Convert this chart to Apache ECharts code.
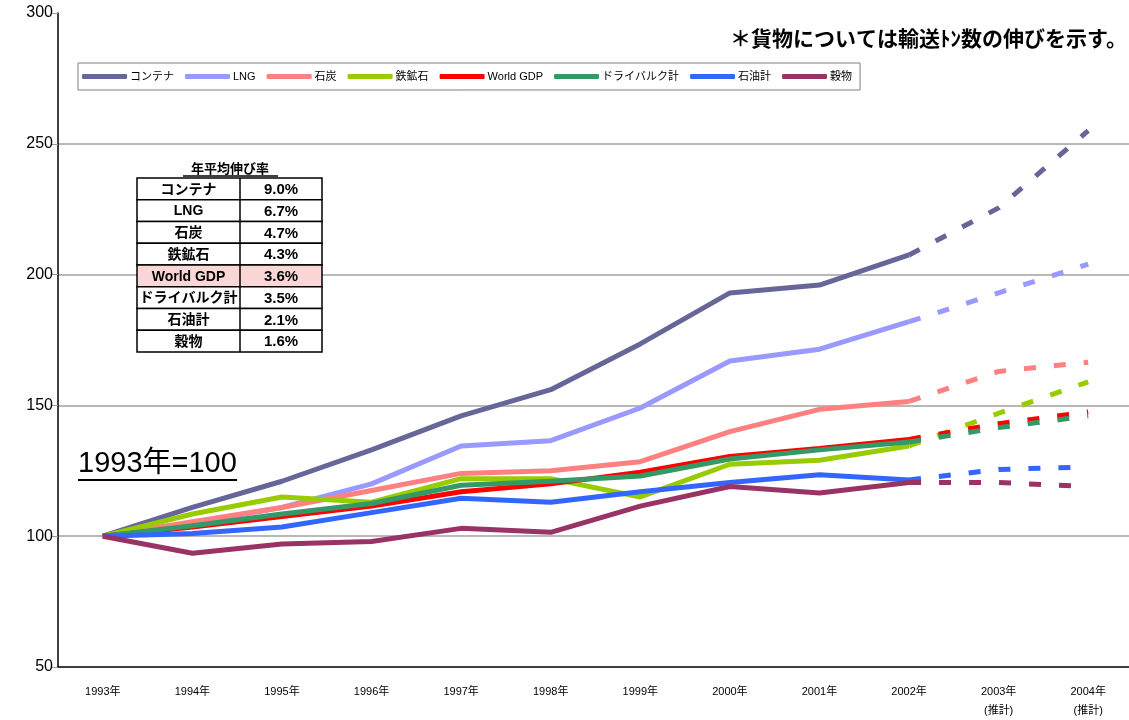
<!DOCTYPE html>
<html>
<head>
<meta charset="utf-8">
<script src="https://cdn.jsdelivr.net/npm/echarts@6/dist/echarts.min.js"></script>
<style>
  html, body { margin: 0; padding: 0; background: #fff; }
  #chart { width: 1129px; height: 720px; }
</style>
</head>
<body>
<div id="chart"></div>
<script>
// 年次（2003, 2004 は推計）
const years = ['1993年', '1994年', '1995年', '1996年', '1997年', '1998年', '1999年', '2000年', '2001年', '2002年', '2003年\n(推計)', '2004年\n(推計)'];
const seriesNames = ['コンテナ', 'LNG', '石炭', '鉄鉱石', 'World GDP', 'ドライバルク計', '石油計', '穀物'];
const seriesColors = ['#666699', '#9999FF', '#FF8080', '#99CC00', '#FF0000', '#339966', '#3366FF', '#993366'];

// 実績 1993-2002
const containerActual = [100, 111, 121, 133, 146, 156, 173.5, 193, 196, 207.5];
const lngActual = [100, 105, 111, 120, 134.5, 136.5, 149, 167, 171.5, 182];
const coalActual = [100, 105.5, 111, 117.5, 124, 125, 128.5, 140, 148.5, 151.5];
const ironActual = [100, 108.5, 115, 113, 122, 122, 115, 127.5, 129, 134.5];
const gdpActual = [100, 103.5, 107.5, 111.5, 117, 120, 124.5, 130.5, 133.5, 137];
const dryActual = [100, 104, 108.5, 112.5, 119.5, 121, 123, 129.5, 133, 136];
const oilActual = [100, 101, 103.5, 109, 114.5, 113, 117, 120.5, 123.5, 121.5];
const grainActual = [100, 93.5, 97, 98, 103, 101.5, 111.5, 119, 116.5, 120.5];

// 推計 2003-2004
const containerForecast = [225.5, 255];
const lngForecast = [193, 204];
const coalForecast = [163, 166.5];
const ironForecast = [147, 159];
const gdpForecast = [143, 147.5];
const dryForecast = [141.5, 146];
const oilForecast = [125.5, 126.5];
const grainForecast = [120.5, 119];

// 年平均伸び率 表
const tableNames = ['コンテナ', 'LNG', '石炭', '鉄鉱石', 'World GDP', 'ドライバルク計', '石油計', '穀物'];
const tableRates = ['9.0%', '6.7%', '4.7%', '4.3%', '3.6%', '3.5%', '2.1%', '1.6%'];

const actuals = [containerActual, lngActual, coalActual, ironActual, gdpActual, dryActual, oilActual, grainActual];
const forecasts = [containerForecast, lngForecast, coalForecast, ironForecast, gdpForecast, dryForecast, oilForecast, grainForecast];

const font = '"Liberation Sans", "Noto Sans CJK JP", sans-serif';

let seriesList = [];
seriesNames.forEach(function (name, i) {
  seriesList.push({
    name: name,
    type: 'line',
    data: actuals[i],
    symbol: 'none',
    lineStyle: { color: seriesColors[i], width: 5 },
    itemStyle: { color: seriesColors[i] },
    z: 2 + i,
  });
});
// 推計部分は破線（2002年の実績から繋ぐ）
seriesNames.forEach(function (name, i) {
  const dashed = [];
  for (let k = 0; k < actuals[i].length - 1; k++) dashed.push(null);
  dashed.push(actuals[i][actuals[i].length - 1]);
  forecasts[i].forEach(function (v) { dashed.push(v); });
  seriesList.push({
    name: name,
    type: 'line',
    data: dashed,
    symbol: 'none',
    lineStyle: { color: seriesColors[i], width: 5, type: [12, 18], cap: 'butt' },
    itemStyle: { color: seriesColors[i] },
    z: 2 + i,
  });
});

// 表のグラフィック
const tblLeft = 137, tblTop = 178, tblW = 185, rowH = 21.75, colX = 240;
let tableGraphics = [];
tableNames.forEach(function (name, i) {
  const y = tblTop + i * rowH;
  tableGraphics.push({
    type: 'rect',
    shape: { x: tblLeft, y: y, width: tblW, height: rowH },
    style: { fill: name === 'World GDP' ? '#FAD6D6' : '#fff', stroke: '#000', lineWidth: 1.5 },
    z: 100,
  });
  tableGraphics.push({
    type: 'text',
    x: (tblLeft + colX) / 2, y: y + rowH / 2 + 1,
    style: { text: name, font: 'bold 14px "Liberation Sans", "Noto Sans CJK JP", sans-serif', fill: '#000', align: 'center', verticalAlign: 'middle' },
    z: 101,
  });
  tableGraphics.push({
    type: 'text',
    x: (colX + tblLeft + tblW) / 2, y: y + rowH / 2 + 1,
    style: { text: tableRates[i], font: 'bold 15px "Liberation Sans", sans-serif', fill: '#000', align: 'center', verticalAlign: 'middle' },
    z: 101,
  });
});
tableGraphics.push({
  type: 'line',
  shape: { x1: colX, y1: tblTop, x2: colX, y2: tblTop + rowH * tableNames.length },
  style: { stroke: '#000', lineWidth: 1.5 },
  z: 102,
});

const chart = echarts.init(document.getElementById('chart'));
chart.setOption({
  animation: false,
  backgroundColor: '#fff',
  grid: { left: 58, right: -4, top: 13, bottom: 53, containLabel: false, outerBoundsMode: 'none' },
  legend: {
    data: seriesNames,
    left: 78,
    top: 63,
    padding: [8, 8, 8, 4],
    itemWidth: 45,
    itemHeight: 5,
    itemGap: 11,
    icon: 'roundRect',
    borderColor: '#808080',
    borderWidth: 1,
    backgroundColor: '#fff',
    textStyle: { fontSize: 11, fontFamily: font, color: '#000', padding: [0, 0, 0, -2] },
  },
  xAxis: {
    type: 'category',
    data: years,
    boundaryGap: true,
    axisLine: { lineStyle: { color: '#000', width: 1.5 } },
    axisTick: { inside: true, length: 5, lineStyle: { color: '#000' } },
    axisLabel: { fontSize: 11, fontFamily: font, color: '#000', margin: 15, lineHeight: 19 },
  },
  yAxis: {
    type: 'value',
    min: 50,
    max: 300,
    interval: 50,
    axisLine: { show: true, lineStyle: { color: '#000', width: 1.5 } },
    axisTick: { show: true, length: 7, lineStyle: { color: '#999' } },
    axisLabel: { fontSize: 16, fontFamily: font, color: '#000', margin: 5 },
    splitLine: { show: true, showMaxLine: false, showMinLine: false, lineStyle: { color: '#A0A0A0', width: 1.5 } },
  },
  graphic: [
    {
      type: 'text',
      x: 730, y: 28,
      style: { text: '＊貨物については輸送ﾄﾝ数の伸びを示す。', font: 'bold 21px "Noto Sans CJK JP", sans-serif', fill: '#000' },
    },
    {
      type: 'text',
      x: 78, y: 449,
      style: { text: '1993年=100', font: '29px "Liberation Sans", "Noto Sans CJK JP", sans-serif', fill: '#000' },
    },
    {
      type: 'line',
      shape: { x1: 78, y1: 480, x2: 237, y2: 480 },
      style: { stroke: '#000', lineWidth: 2 },
    },
    {
      type: 'text',
      x: 230, y: 168,
      style: { text: '年平均伸び率', font: 'bold 13px "Noto Sans CJK JP", sans-serif', fill: '#000', align: 'center', verticalAlign: 'middle' },
    },
    {
      type: 'line',
      shape: { x1: 183, y1: 176, x2: 278, y2: 176 },
      style: { stroke: '#000', lineWidth: 1.5 },
    },
  ].concat(tableGraphics),
  series: seriesList,
});
</script>
</body>
</html>
